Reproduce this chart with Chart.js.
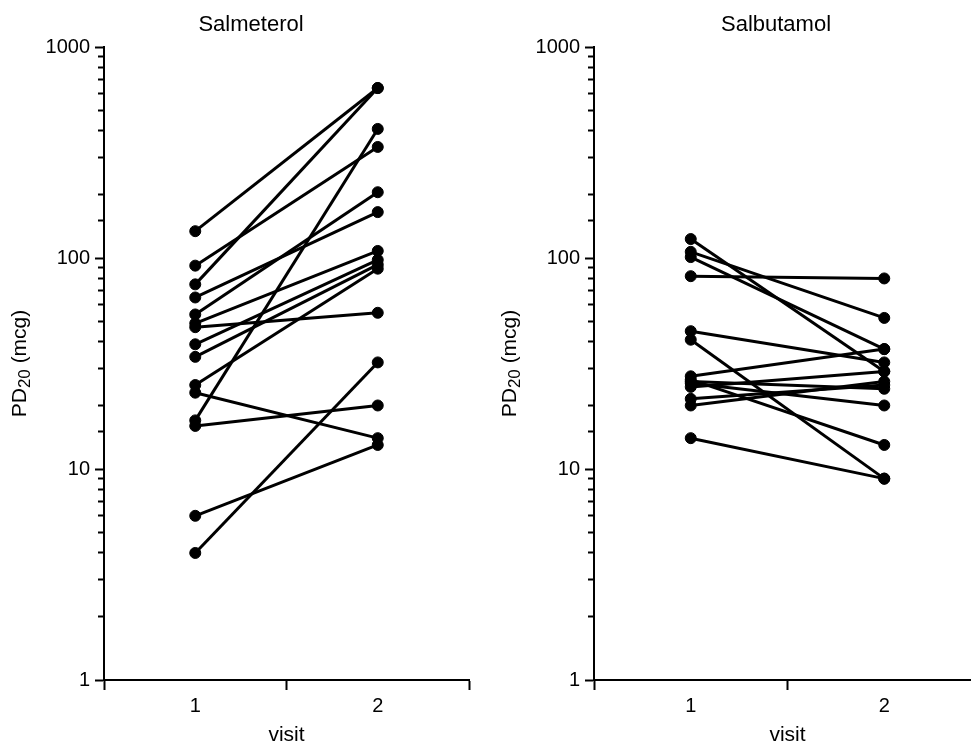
<!DOCTYPE html>
<html><head><meta charset="utf-8">
<script src="https://cdn.jsdelivr.net/npm/chart.js@4.4.0/dist/chart.umd.min.js"></script>
<style>
html,body{margin:0;padding:0;background:#fff;overflow:hidden;width:971px;height:744px;position:relative;}
canvas{position:absolute;top:0;}
#c1{left:0;}
#c2{left:490px;}
</style></head><body>
<canvas id="c1" width="502" height="744" style="width:502px;height:744px"></canvas>
<canvas id="c2" width="572" height="744" style="width:572px;height:744px"></canvas>
<script>
// ---- data ----
const visits = [1, 2];
const salmeterolVisit1 = [134, 75, 92, 65, 17, 54, 47, 49, 39, 34, 25, 23, 16, 6, 4];
const salmeterolVisit2 = [639, 639, 336, 165, 409, 205, 55, 108, 98, 93, 89, 14, 20, 13, 32];
const salbutamolVisit1 = [123, 107, 101, 82, 45, 41, 14, 27.5, 26.5, 25.5, 24.5, 21.5, 20, 26];
const salbutamolVisit2 = [29, 52, 37, 80, 32, 9, 9, 37, 13, 20, 29, 25, 26, 24];
const yTickLabels = [1, 10, 100, 1000];
const xTickLabels = [1, 2];
const panelTitles = ['Salmeterol', 'Salbutamol'];
const xAxisTitle = 'visit';
const yAxisTitle = ['PD', '20', ' (mcg)'];

const FAMILY = "'Liberation Sans', Arial, Helvetica, sans-serif";
Chart.defaults.font.family = FAMILY;
Chart.defaults.color = '#000';

function isDecade(v) {
  const l = Math.log10(v);
  return Math.abs(l - Math.round(l)) < 1e-9;
}

const textPlugin = {
  id: 'panelText',
  afterDraw(chart, args, opts) {
    const ca = chart.chartArea;
    const ctx = chart.ctx;
    ctx.save();
    ctx.fillStyle = '#000';
    // panel title, centred on the canvas
    ctx.font = '22px ' + FAMILY;
    ctx.textAlign = 'center';
    ctx.textBaseline = 'middle';
    ctx.fillText(opts.title, chart.width / 2, 25);
    // rotated y-axis title with subscript
    const x = ca.left - 84;
    const y = (ca.top + ca.bottom) / 2;
    const mainFont = '21px ' + FAMILY;
    const subFont = '17px ' + FAMILY;
    ctx.textAlign = 'left';
    ctx.font = mainFont;
    const w1 = ctx.measureText(yAxisTitle[0]).width;
    const w3 = ctx.measureText(yAxisTitle[2]).width;
    ctx.font = subFont;
    const w2 = ctx.measureText(yAxisTitle[1]).width;
    const total = w1 + w2 + w3;
    ctx.translate(x, y);
    ctx.rotate(-Math.PI / 2);
    let cx = -total / 2;
    ctx.font = mainFont;
    ctx.fillText(yAxisTitle[0], cx, 0);
    cx += w1;
    ctx.font = subFont;
    ctx.fillText(yAxisTitle[1], cx, 5);
    cx += w2;
    ctx.font = mainFont;
    ctx.fillText(yAxisTitle[2], cx, 0);
    ctx.restore();
  }
};

function makeChart(id, title, v1, v2, padRight) {
  const datasets = v1.map((a, i) => ({
    data: [{x: visits[0], y: a}, {x: visits[1], y: v2[i]}],
    borderColor: '#000',
    backgroundColor: '#000',
    pointBackgroundColor: '#000',
    pointBorderColor: '#000',
    borderWidth: 3,
    pointRadius: 5.5,
    pointBorderWidth: 1,
    pointHoverRadius: 5.5,
    tension: 0,
    clip: false
  }));
  return new Chart(document.getElementById(id), {
    type: 'line',
    data: {datasets},
    options: {
      responsive: false,
      animation: false,
      events: [],
      layout: {padding: {left: 0, right: padRight, top: 47, bottom: 0}},
      plugins: {
        legend: {display: false},
        tooltip: {enabled: false},
        title: {display: false},
        panelText: {title: title}
      },
      scales: {
        x: {
          type: 'linear', min: 0.5, max: 2.5,
          ticks: {
            stepSize: 0.5, autoSkip: false, maxRotation: 0, padding: 4,
            font: {size: 20}, color: '#000',
            callback: v => xTickLabels.includes(v) ? String(v) : ''
          },
          grid: {
            drawOnChartArea: false, tickLength: 10, tickWidth: 2,
            tickColor: ctx => (ctx.tick && Number.isInteger(ctx.tick.value)) ? 'rgba(0,0,0,0)' : '#000'
          },
          border: {color: '#000', width: 2},
          title: {display: true, text: xAxisTitle, color: '#000', font: {size: 21, lineHeight: 1}, padding: {top: 0, bottom: -2}},
          afterFit: s => { s.height = 64; }
        },
        y: {
          type: 'logarithmic', min: 1, max: 1000,
          ticks: {
            autoSkip: false, padding: 5, font: {size: 20}, color: '#000',
            callback: v => yTickLabels.includes(v) ? String(v) : ''
          },
          grid: {
            drawOnChartArea: false, tickLength: 9, tickWidth: 2, tickColor: '#000',
            tickBorderDash: ctx => (ctx.tick && !isDecade(ctx.tick.value)) ? [0, 3, 6, 100] : []
          },
          border: {color: '#000', width: 2},
          afterFit: s => { s.width = 104; }
        }
      }
    },
    plugins: [textPlugin]
  });
}

makeChart('c1', panelTitles[0], salmeterolVisit1, salmeterolVisit2, 33);
makeChart('c2', panelTitles[1], salbutamolVisit1, salbutamolVisit2, 81);
</script>
</body></html>
